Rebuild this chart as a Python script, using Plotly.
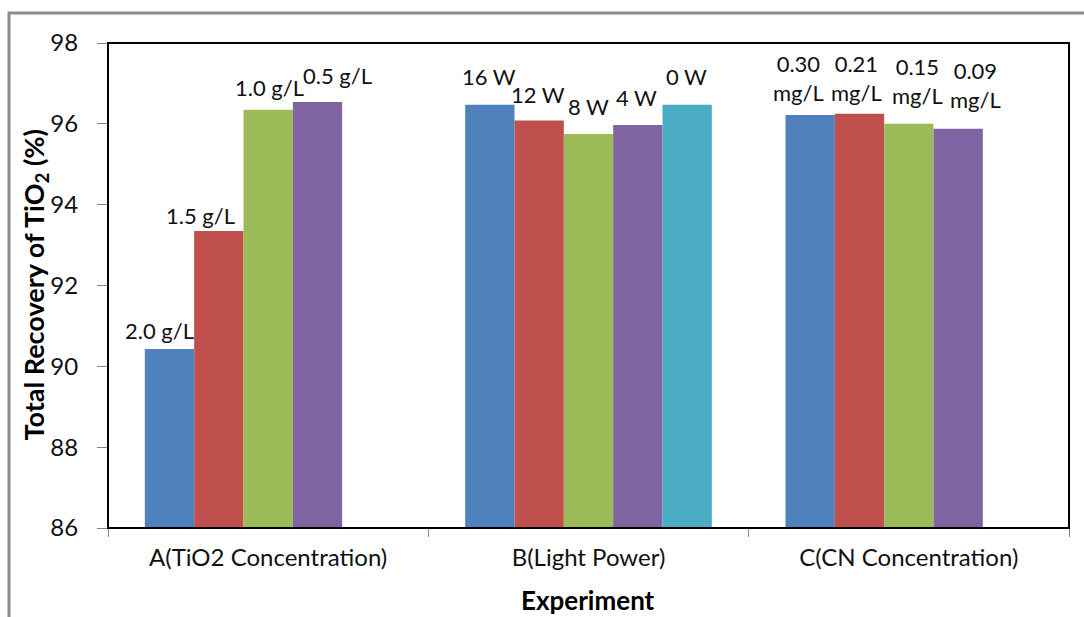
import plotly.graph_objects as go

categories = ["A(TiO2 Concentration)", "B(Light Power)", "C(CN Concentration)"]

s1 = [90.43, 96.47, 96.22]
s2 = [93.35, 96.08, 96.25]
s3 = [96.35, 95.75, 96.00]
s4 = [96.54, 95.97, 95.88]
s5 = [None, 96.47, None]

lab1 = ["2.0 g/L", "16 W", "0.30<br>mg/L"]
lab2 = ["1.5 g/L", "12 W", "0.21<br>mg/L"]
lab3 = ["1.0 g/L", "8 W", "0.15<br>mg/L"]
lab4 = ["0.5 g/L", "4 W", "0.09<br>mg/L"]
lab5 = [None, "0 W", None]

series = [s1, s2, s3, s4, s5]
labels = [lab1, lab2, lab3, lab4, lab5]
colors = ["#4F81BD", "#C0504D", "#9BBB59", "#8064A2", "#4BACC6"]

# label placement tweaks (pixels): horizontal shift, height of label centre above bar top
dx = [[-10, -1, -12], [-18, -1, -3], [1, 0, 9], [20, -1, 17], [0, -1, 0]]
dy = [[18, 28, 37], [15, 26, 36], [22, 27, 43], [27, 28, 44], [0, 28, 0]]

FONT = "Lato, 'Open Sans', sans-serif"
bargap = 0.23
W, H = 1084, 617
L, R, T, B = 108, 15, 43, 89
pw, ph = W - L - R, H - T - B

fig = go.Figure()
for vals, c in zip(series, colors):
    fig.add_trace(go.Bar(x=categories, y=vals, marker=dict(color=c, line=dict(width=0)),
                         showlegend=False))

n = len(series)
slot = (1 - bargap) / n
annotations = []
for j, (vals, labs) in enumerate(zip(series, labels)):
    for i, (v, t) in enumerate(zip(vals, labs)):
        if v is None or t is None:
            continue
        annotations.append(dict(x=i + (j - (n - 1) / 2) * slot, y=v, xref="x", yref="y",
                                text=t, showarrow=False, xanchor="center", yanchor="middle",
                                xshift=dx[j][i], yshift=dy[j][i],
                                font=dict(family=FONT, size=22, color="#111")))

annotations.append(dict(x=(35 - L) / pw, y=0.5, xref="paper", yref="paper",
                        text="<b>Total Recovery of TiO<sub>2</sub> (%)</b>", textangle=-90,
                        showarrow=False, xanchor="center", yanchor="middle",
                        font=dict(family=FONT, size=27, color="#000")))
annotations.append(dict(x=(588 - L) / pw, y=(528 - 600) / ph, xref="paper", yref="paper",
                        text="<b>Experiment</b>", showarrow=False,
                        xanchor="center", yanchor="middle",
                        font=dict(family=FONT, size=26, color="#000")))

fig.update_layout(
    width=W, height=H,
    margin=dict(l=L, r=R, t=T, b=B),
    barmode="group", bargap=bargap, bargroupgap=0,
    plot_bgcolor="white", paper_bgcolor="white",
    annotations=annotations,
    shapes=[
        dict(type="rect", xref="paper", yref="paper", x0=0, x1=1, y0=0, y1=1,
             line=dict(color="black", width=2), layer="above"),
        dict(type="rect", xref="paper", yref="paper", x0=(9 - L) / pw, x1=1.2,
             y0=-0.5, y1=(528 - 13) / ph, line=dict(color="#8c8c8c", width=3), layer="below"),
    ],
)
fig.update_xaxes(type="category", range=[-0.5, 2.5], tickson="boundaries",
                 ticks="outside", ticklen=8, tickcolor="#868686", showline=True,
                 linecolor="#868686", linewidth=1, showgrid=False, zeroline=False,
                 tickfont=dict(family=FONT, size=24, color="#111"), ticklabelstandoff=8)
fig.update_yaxes(range=[86, 98], tickvals=[86, 88, 90, 92, 94, 96, 98],
                 ticks="outside", ticklen=10, tickcolor="#868686", showline=True,
                 linecolor="#868686", linewidth=1, showgrid=False, zeroline=False,
                 tickfont=dict(family=FONT, size=24, color="#111"), ticklabelstandoff=14)

fig.write_html("out.html")
